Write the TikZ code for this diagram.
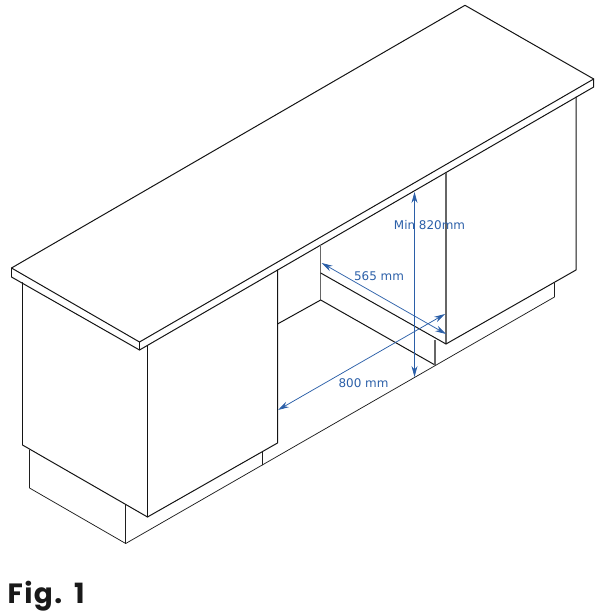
\documentclass[tikz,border=0pt]{standalone}
\usepackage{fontspec}
\setmainfont{DejaVu Sans}
\newfontfamily\figfont[LetterSpace=5,WordSpace=1.3]{Poppins}
\usetikzlibrary{arrows.meta}
\definecolor{dimblue}{HTML}{2B5FA8}
\tikzset{
  edge/.style={black!92,line width=1pt,line join=round,line cap=round},
  thin edge/.style={black!88,line width=0.75pt,line join=round,line cap=round},
  grey edge/.style={black!60,line width=1.2pt},
  dimline/.style={dimblue,line width=0.75pt,{Stealth[length=11pt,width=6pt]}-{Stealth[length=11pt,width=6pt]}},
  dimtext/.style={text=dimblue,font=\fontsize{12}{14}\selectfont,inner sep=0pt},
}
\begin{document}
\begin{tikzpicture}[x=1bp,y=-1bp]
\useasboundingbox (0,0) rectangle (602,612);
% worktop
\draw[edge] (11.5,268) -- (465,5.3) -- (593.7,79) -- (593.7,87) -- (139.5,350) -- (11.5,277) -- cycle;
\draw[edge] (11.5,268) -- (139.5,342) -- (593.7,79);
\draw[edge] (139.5,342) -- (139.5,350);
% left cabinet
\draw[edge] (22.5,282.5) -- (22.5,445) -- (147.5,517) -- (277.5,443) -- (277.5,270);
\draw[edge] (147.5,345.5) -- (147.5,517);
% right cabinet
\draw[grey edge] (446,173) -- (446,344);
\draw[edge] (446,344) -- (576,270) -- (576,97);
% niche
\draw[grey edge] (320.7,245) -- (320.7,300);
\draw[edge] (277.5,324) -- (320.7,300) -- (435,365);
\draw[edge] (320.7,273) -- (446,344);
\draw[grey edge] (435,340) -- (435,365);
% plinth
\draw[thin edge] (29.5,450) -- (29.5,488) -- (125.7,543.5) -- (554.5,297) -- (554.5,283);
\draw[thin edge] (125.7,505) -- (125.7,543.5);
\draw[thin edge] (262.5,452) -- (262.5,465);
% dimensions
\coordinate (hTop) at (414.5,192);
\coordinate (hBot) at (414.5,377);
\coordinate (dBack) at (321.7,263);
\coordinate (dFront) at (446,334);
\coordinate (wLeft) at (278,410);
\coordinate (wRight) at (445,314);
\draw[dimline] (hTop) -- (hBot);
\draw[dimline] (dBack) -- (dFront);
\draw[dimline] (wLeft) -- (wRight);
\node[dimtext] (minheight) at (429.5,225.5) {Min 820mm};
\node[dimtext] (depth) at (379,276.5) {565 mm};
\node[dimtext] (width) at (363.5,383.5) {800 mm};
\node[anchor=base west,inner sep=0pt,text=black!90,font=\figfont\bfseries\fontsize{28}{30}\selectfont] (fig) at (7.5,603) {Fig. 1};
\end{tikzpicture}
\end{document}
